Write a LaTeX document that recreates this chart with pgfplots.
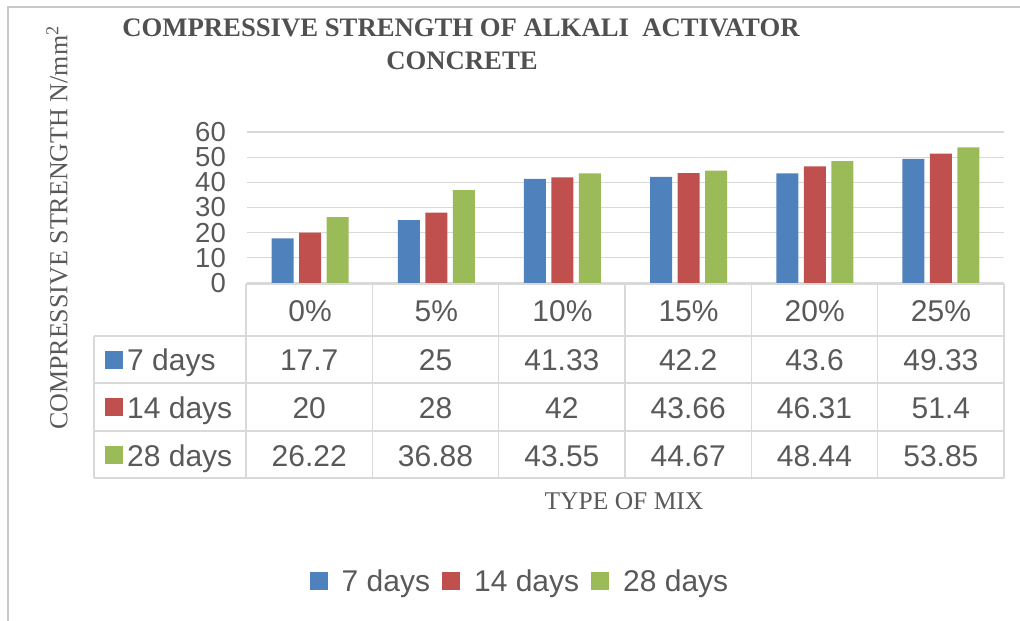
\documentclass[border=0pt]{standalone}
\usepackage{pgfplots}
\pgfplotsset{compat=1.18}
\usepackage{pgfplotstable}
\usepackage{fontspec}
\setmainfont{Liberation Serif}
\newfontfamily\arial{Liberation Sans}
\definecolor{cblue}{HTML}{4F81BD}
\definecolor{cred}{HTML}{C0504D}
\definecolor{cgreen}{HTML}{9BBB59}
\definecolor{txt}{HTML}{595959}
\definecolor{ttl}{HTML}{505050}
\definecolor{gridc}{HTML}{D9D9D9}
\definecolor{framec}{HTML}{C8C8C8}

\pgfplotstableread{
x d7 d14 d28
0 17.7 20 26.22
1 25 28 36.88
2 41.33 42 43.55
3 42.2 43.66 44.67
4 43.6 46.31 48.44
5 49.33 51.4 53.85
}\datatable

\begin{document}
\begin{tikzpicture}[x=1pt,y=-1pt]
\useasboundingbox (0,0) rectangle (1020,621);
\draw[framec, line width=1.2pt] (8,621) -- (8,7) -- (1020,7);
\begin{axis}[
  at={(247pt,-283pt)}, anchor=south west,
  scale only axis, width=757pt, height=151pt,
  xmin=-0.5, xmax=5.5, ymin=0, ymax=60,
  ybar=5.5pt, bar width=22pt,
  xtick={0,1,2,3,4,5},
  xticklabels={0\%,5\%,10\%,15\%,20\%,25\%},
  ytick={0,10,...,60},
  ymajorgrids, grid style={gridc, line width=1.2pt},
  axis line style={draw=none},
  major tick length=0pt,
  /pgf/number format/assume math mode=true,
  yticklabel style={font=\arial\fontsize{27.5}{27.5}\selectfont, text=txt, anchor=east, inner sep=0pt, xshift=-21pt},
  xticklabel style={font=\arial\fontsize{30}{30}\selectfont, text=txt, anchor=base, inner sep=0pt, yshift=-38pt},
  legend style={at={(0.3606,-1.974)}, anchor=center, draw=none, fill=none,
    legend columns=-1, font=\arial\fontsize{30}{36}\selectfont, text=txt,
    /tikz/every odd column/.append style={column sep=12pt},
    /tikz/every even column/.append style={column sep=10pt}},
  legend image code/.code={\draw[#1,draw=none] (0pt,-9pt) rectangle (18pt,9pt);},
]
\addplot[fill=cblue, draw=none] table[x=x,y=d7]{\datatable};
\addplot[fill=cred, draw=none] table[x=x,y=d14]{\datatable};
\addplot[fill=cgreen, draw=none] table[x=x,y=d28]{\datatable};
\legend{7 days,14 days,28 days}
\end{axis}

% data table under the chart
\begin{scope}[gridc, line width=1.2pt]
\draw (246,284) -- (1004,284);
\foreach \yy in {336,383,431,478} \draw (94,\yy) -- (1004,\yy);
\draw (94,336) -- (94,478);
\foreach \xx in {246,372.3,498.7,625,751.3,877.7,1004} \draw (\xx,284) -- (\xx,478);
\end{scope}

\fill[cblue] (105,351) rectangle (123,369);
\fill[cred] (105,398) rectangle (123,416);
\fill[cgreen] (105,446) rectangle (123,464);
\begin{scope}[every node/.style={font=\arial\fontsize{30}{30}\selectfont, text=txt, inner sep=0pt}]
\node[anchor=base west] at (127,370) {7 days};
\node[anchor=base west] at (127,418) {14 days};
\node[anchor=base west] at (127,466) {28 days};
\foreach \i in {0,...,5} {
  \pgfplotstablegetelem{\i}{d7}\of\datatable
  \node[anchor=base] at (309.2+126.33*\i,370) {\pgfplotsretval};
  \pgfplotstablegetelem{\i}{d14}\of\datatable
  \node[anchor=base] at (309.2+126.33*\i,418) {\pgfplotsretval};
  \pgfplotstablegetelem{\i}{d28}\of\datatable
  \node[anchor=base] at (309.2+126.33*\i,466) {\pgfplotsretval};
}
\end{scope}

% titles and labels
\node[anchor=base, font=\fontsize{26.7}{30}\selectfont\bfseries, text=ttl, inner sep=0pt] at (461,36) {COMPRESSIVE STRENGTH OF ALKALI\ \ ACTIVATOR};
\node[anchor=base, font=\fontsize{26.7}{30}\selectfont\bfseries, text=ttl, inner sep=0pt] at (462,69) {CONCRETE};
\node[anchor=base, font=\fontsize{25.5}{30}\selectfont, text=txt, inner sep=0pt] at (624,509) {TYPE OF MIX};
\node[rotate=90, anchor=center, font=\fontsize{26}{30}\selectfont, text=txt, inner sep=0pt] at (57,228) {COMPRESSIVE STRENGTH N/mm\textsuperscript{2}};
\end{tikzpicture}
\end{document}
